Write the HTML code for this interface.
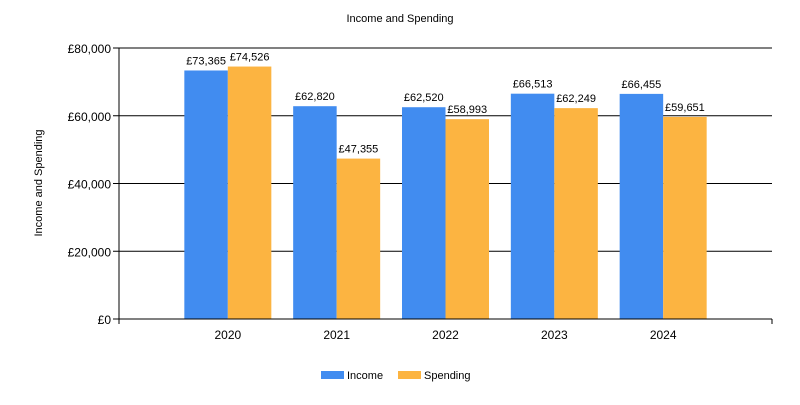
<!DOCTYPE html>
<html><head><meta charset="utf-8"><style>
body{margin:0;background:#fff;font-family:"Liberation Sans",sans-serif}
svg text{font-family:"Liberation Sans",sans-serif;fill:#000}
</style></head><body>
<svg width="800" height="400" viewBox="0 0 800 400">
<text x="400" y="22" font-size="11" text-anchor="middle">Income and Spending</text>
<text transform="translate(42,183) rotate(-90)" font-size="11" text-anchor="middle">Income and Spending</text>
<g id="grid"></g><g id="bars"></g><g id="axes"></g>
<g>
<rect x="321" y="371" width="23" height="8" fill="#418CF0"/>
<text x="347" y="379" font-size="11">Income</text>
<rect x="398" y="371" width="23" height="8" fill="#FCB441"/>
<text x="424" y="379" font-size="11">Spending</text>
</g>
</svg>
<script>
const categories=["2020","2021","2022","2023","2024"];
const income=[73365,62820,62520,66513,66455];
const spending=[74526,47355,58993,62249,59651];
const yTicks=[0,20000,40000,60000,80000];
const NS="http://www.w3.org/2000/svg";
const L=119,R=772,T=48,B=319,YMAX=80000;
const y=v=>B-(v/YMAX)*(B-T);
const slot=(R-L)/(categories.length+1);
const xc=i=>L+slot*(i+1);
const bw=43.5;
const fmt=v=>"£"+v.toLocaleString("en-GB");
function mk(tag,attrs,parent,txt){const e=document.createElementNS(NS,tag);for(const k in attrs)e.setAttribute(k,attrs[k]);if(txt!==undefined)e.textContent=txt;document.getElementById(parent).appendChild(e);return e;}
yTicks.forEach(t=>{
  const g=mk("line",{x1:L-6,x2:R,y1:y(t),y2:y(t),stroke:"#000","stroke-width":1},"grid");
  
  
  const lb=mk("text",{x:L-8,y:y(t)+5,"font-size":12,"text-anchor":"end"},"axes",fmt(t));
  
  
});
categories.forEach((c,i)=>{
  const x=xc(i);
  const b1=mk("rect",{x:x-bw,y:y(income[i]),width:bw,height:B-y(income[i]),fill:"#418CF0"},"bars");
  
  
  const b2=mk("rect",{x:x,y:y(spending[i]),width:bw,height:B-y(spending[i]),fill:"#FCB441"},"bars");
  
  
  const l1=mk("text",{x:x-bw/2,y:y(income[i])-6,"font-size":11,"text-anchor":"middle"},"bars",fmt(income[i]));
  
  
  const l2=mk("text",{x:x+bw/2,y:y(spending[i])-6,"font-size":11,"text-anchor":"middle"},"bars",fmt(spending[i]));
  
  
  const xl=mk("text",{x:x,y:339,"font-size":12,"text-anchor":"middle"},"axes",c);
  
  
});
const ya=mk("line",{x1:L,x2:L,y1:T,y2:B+5,stroke:"#000"},"axes");


const xa=mk("line",{x1:L,x2:R,y1:B,y2:B,stroke:"#000"},"axes");


const tr=mk("line",{x1:R,x2:R,y1:B,y2:B+5,stroke:"#000"},"axes");


</script>
</body></html>
